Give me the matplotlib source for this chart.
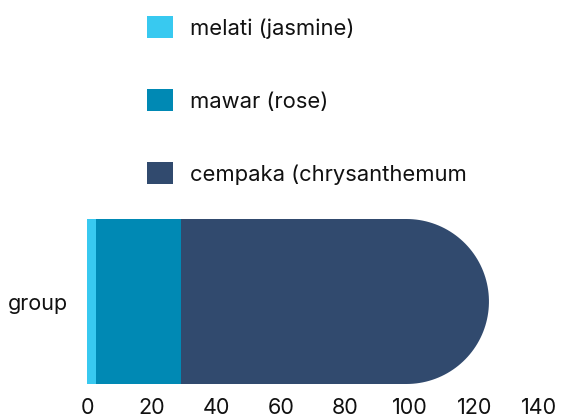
import numpy as np
import matplotlib
matplotlib.use("Agg")
import matplotlib.pyplot as plt
from matplotlib.path import Path
from matplotlib.patches import Patch

plt.rcParams["font.family"] = ["Inter", "DejaVu Sans"]

category = "group"
series = ["melati (jasmine)", "mawar (rose)", "cempaka (chrysanthemum"]
values = [2.8, 26.3, 95.4]
colors = ["#38C9F0", "#0089B4", "#314A6E"]
xticks = [0, 20, 40, 60, 80, 100, 120, 140]

fig = plt.figure(figsize=(5.63, 4.15), dpi=100)
ax = fig.add_axes([87 / 563, 31 / 415, 452 / 563, 165 / 415])
ax.set_xlim(0, 140)
ax.set_ylim(-0.5, 0.5)

bars = []
left = 0.0
for name, v, c in zip(series, values, colors):
    b = ax.barh(0, v, left=left, height=1.0, color=c, label=name)
    bars.append(b[0])
    left += v
total = left

# rounded right end: semicircle in pixel space
px_per_x = ax.transData.transform((1, 0))[0] - ax.transData.transform((0, 0))[0]
px_per_y = ax.transData.transform((0, 1))[1] - ax.transData.transform((0, 0))[1]
ry = 0.5
rx = ry * px_per_y / px_per_x
t = np.linspace(-np.pi / 2, np.pi / 2, 80)
arc = np.column_stack([total - rx + rx * np.cos(t), ry * np.sin(t)])
verts = np.vstack([[0, -ry], arc, [0, ry], [0, -ry]])
codes = [Path.MOVETO] + [Path.LINETO] * (len(verts) - 2) + [Path.CLOSEPOLY]
clip = Path(verts, codes)
for b in bars:
    b.set_clip_path(clip, ax.transData)

ax.set_xticks(xticks)
ax.set_yticks([0])
ax.set_yticklabels([category])
ax.tick_params(axis="x", length=0, pad=10, labelsize=15.5, colors="#111111")
ax.tick_params(axis="y", length=0, pad=14, labelsize=15.5, colors="#111111")
for s in ax.spines.values():
    s.set_visible(False)

handles = [Patch(facecolor=c, edgecolor="none") for c in colors]
fig.legend(handles, series, loc="upper left", bbox_to_anchor=(147 / 563, 1 - 16 / 415),
           frameon=False, fontsize=15.8, handlelength=1.18, handleheight=1.18,
           labelspacing=2.3, handletextpad=0.8, borderpad=0, borderaxespad=0,
           labelcolor="#111111")

fig.savefig("out.png", dpi=100)
